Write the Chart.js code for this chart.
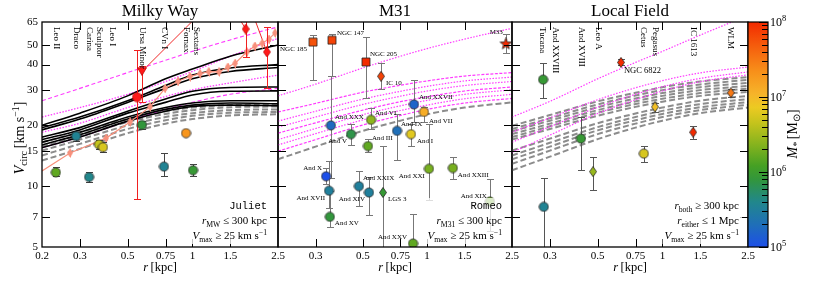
<!DOCTYPE html>
<html>
<head>
<meta charset="utf-8">
<script src="https://cdn.jsdelivr.net/npm/chart.js@4.4.1/dist/chart.umd.min.js"></script>
<style>
  html, body { margin: 0; padding: 0; background: #fff; }
  #wrap { position: relative; width: 830px; height: 283px; }
  #wrap canvas { position: absolute; left: 0; top: 0; }
</style>
</head>
<body>
<div id="wrap">
  <canvas id="mw" width="830" height="283"></canvas>
  <canvas id="m31" width="830" height="283"></canvas>
  <canvas id="lf" width="830" height="283"></canvas>
  <canvas id="cbar" width="830" height="283"></canvas>
</div>
<script>
// --- axes ---
const R_GRID = [0.2, 0.3, 0.5, 0.75, 1, 1.5, 2.5];
const X_TICKS = [0.2, 0.3, 0.5, 0.75, 1, 1.5, 2.5];
const Y_TICKS = [5, 7, 10, 15, 20, 30, 40, 50, 65];

// --- Milky Way host curves (V at R_GRID) ---
const MW_BLACK = [
  [20.0, 23.0, 28.0, 34.0, 38.0, 44.0, 50.0],
  [19.5, 22.0, 26.5, 31.5, 35.5, 38.5, 40.0],
  [19.0, 21.5, 26.0, 30.5, 34.0, 37.0, 38.7],
  [17.5, 19.5, 23.5, 27.0, 29.5, 30.8, 31.0],
  [17.0, 19.0, 23.0, 26.0, 28.3, 29.5, 29.6],
  [16.5, 18.5, 22.0, 24.5, 25.8, 26.5, 26.5],
  [16.0, 18.0, 21.5, 24.0, 25.2, 25.8, 25.6],
  [15.5, 17.5, 21.0, 23.5, 24.8, 25.2, 25.0]
];
const MW_GRAY = [
  [16.5, 18.5, 21.5, 23.5, 24.5, 25.2, 25.3],
  [15.7, 17.7, 20.8, 22.8, 23.8, 24.6, 24.8],
  [15.0, 17.0, 20.0, 22.0, 23.0, 23.8, 24.0],
  [14.2, 16.2, 19.2, 21.2, 22.3, 23.1, 23.3],
  [13.4, 15.3, 18.3, 20.4, 21.5, 22.4, 22.7]
];
const MW_PINK_DASH = [
  [26.5, 30.5, 36.5, 42.0, 46.5, 53.0, 61.5],
  [15.5, 17.5, 21.0, 24.0, 26.0, 28.5, 30.5]
];
const MW_PINK_DOT = [
  [22.0, 24.5, 28.5, 33.0, 37.0, 44.0, 54.0],
  [18.5, 20.5, 24.5, 27.8, 30.0, 32.5, 35.5]
];

// --- Milky Way satellites ---
const MW_NAMES = ['Leo II', 'Draco', 'Carina', 'Sculptor', 'Leo I', 'Ursa Minor', 'CVn I', 'Fornax', 'Sextans'];
const MW_R = [0.232, 0.288, 0.331, 0.368, 0.384, 0.583, 0.738, 0.934, 1.007];
const MW_V = [11.7, 17.7, 11.1, 16.1, 15.6, 20.1, 12.5, 18.3, 12.0];
const MW_LO = [11.2, 16.8, 10.5, 15.3, 14.8, 19.2, 11.2, 18.3, 11.2];
const MW_HI = [12.4, 18.6, 11.8, 17.0, 16.5, 21.0, 14.6, 18.3, 12.9];
const MW_LOGM = [6.2, 5.55, 5.6, 6.65, 6.75, 5.9, 5.55, 7.3, 5.95];

// massive MW objects (red) and their tracks
const MW_BIG_R = [0.553, 0.583, 1.77, 2.22];
const MW_BIG_V = [27.6, 37.0, 60.0, 46.2];
const MW_BIG_LO = [8.6, 26.0, 43.6, 30.8];
const MW_BIG_HI = [47.0, 39.5, 66.0, 61.4];
const MW_BIG_KIND = ['circle', 'tri', 'diamond', 'diamond'];
const MW_TRACK_R = [[0.583, 1.02], [1.66, 1.77], [1.95, 2.22]];
const MW_TRACK_V = [[37.0, 67.0], [67.0, 60.0], [67.0, 46.2]];

// measured profile (salmon)
const MW_PROF_R = [0.2, 0.270, 0.397, 0.513, 0.635, 0.746, 0.857, 0.975, 1.085, 1.19, 1.33, 1.46, 1.58, 1.79, 1.95, 2.11, 2.27, 2.42];
const MW_PROF_V = [11.9, 14.6, 17.3, 20.8, 24.7, 30.5, 33.1, 34.9, 36.1, 36.9, 36.8, 38.9, 40.6, 46.2, 49.4, 51.0, 53.5, 57.4];
const MW_PROF_E = [0, 0.6, 0.8, 1.0, 1.2, 1.4, 1.5, 1.6, 1.6, 1.7, 1.8, 1.9, 2.0, 2.2, 2.4, 2.5, 2.6, 2.8];

// --- M31 host curves ---
const M31_PINK = [
  [28.0, 32.0, 38.5, 44.0, 48.0, 53.5, 60.5],
  [23.3, 25.7, 29.2, 31.6, 33.2, 35.1, 36.5],
  [21.0, 23.5, 27.0, 29.5, 31.2, 33.2, 34.7],
  [19.6, 22.0, 25.4, 27.9, 29.6, 31.5, 33.0],
  [18.3, 20.6, 23.8, 26.2, 27.7, 29.6, 31.0],
  [17.0, 19.3, 22.6, 25.0, 26.6, 28.5, 30.0],
  [16.0, 18.2, 21.3, 23.7, 25.2, 27.1, 28.5],
  [14.9, 17.0, 20.1, 22.4, 24.0, 25.8, 27.2]
];
const M31_GRAY = [
  [13.6, 15.7, 18.8, 21.1, 22.7, 24.5, 26.0]
];

// --- M31 satellites ---
const M31_NAMES = ['NGC 185', 'NGC 147', 'NGC 205', 'IC 10', 'M33', 'And XXX', 'And V', 'And VI', 'And III', 'And IX', 'And XXVII', 'And VII', 'And I', 'And XXI', 'And XXIII', 'And XIX', 'And XXIX', 'And XIV', 'LGS 3', 'And X', 'And XVII', 'And XV', 'And XXV'];
const M31_R = [0.292, 0.358, 0.517, 0.608, 2.34, 0.354, 0.44, 0.546, 0.528, 0.723, 0.868, 0.967, 0.84, 1.02, 1.32, 1.97, 0.479, 0.534, 0.621, 0.336, 0.347, 0.35, 0.859];
const M31_V = [51.7, 52.8, 41.2, 35.0, 50.6, 20.0, 18.1, 21.3, 15.8, 18.8, 25.4, 23.3, 18.1, 12.2, 12.3, 8.4, 10.0, 9.3, 9.3, 11.2, 9.5, 7.05, 5.2];
const M31_LO = [33.7, 35.3, 27.3, 30.2, 45.6, 11.0, 16.0, 19.3, 14.8, 13.5, 20.8, 20.8, 15.9, 8.5, 10.8, 6.0, 8.0, 7.2, 4.8, 10.2, 7.8, 6.3, 4.5];
const M31_HI = [56.0, 57.0, 54.5, 40.6, 56.5, 35.0, 20.3, 24.4, 17.2, 22.8, 33.7, 24.7, 20.3, 20.3, 14.0, 10.9, 11.9, 11.1, 15.9, 12.3, 13.3, 9.5, 7.3];
const M31_LOGM = [7.75, 7.85, 8.0, 7.85, 8.6, 5.25, 5.85, 6.4, 6.2, 5.3, 5.2, 7.1, 6.8, 6.3, 6.3, 6.25, 5.5, 5.5, 5.95, 5.0, 5.5, 5.9, 6.2];
const M31_KIND = ['dE', 'dE', 'dE', 'dIrr', 'spiral', 'dSph', 'dSph', 'dSph', 'dSph', 'dSph', 'dSph', 'dSph', 'dSph', 'dSph', 'dSph', 'dSph', 'dSph', 'dSph', 'dIrr', 'dSph', 'dSph', 'dSph', 'dSph'];

// --- Local Field host curves ---
const LF_GRAY = [
  [19.9, 22.5, 26.3, 29.0, 30.9, 33.0, 34.7],
  [19.2, 21.7, 25.4, 28.1, 29.9, 31.9, 33.6],
  [18.7, 21.1, 24.6, 27.2, 28.9, 30.9, 32.5],
  [18.1, 20.4, 23.8, 26.3, 28.0, 29.9, 31.4],
  [17.5, 19.8, 23.1, 25.5, 27.1, 28.9, 30.4],
  [17.0, 19.2, 22.3, 24.7, 26.2, 28.0, 29.3],
  [15.0, 17.2, 20.5, 22.9, 24.5, 26.5, 28.0],
  [14.2, 16.4, 19.6, 22.0, 23.6, 25.5, 27.0],
  [13.6, 15.7, 18.9, 21.2, 22.8, 24.6, 26.1],
  [12.9, 15.0, 18.1, 20.4, 22.0, 23.8, 25.3],
  [12.0, 14.0, 17.1, 19.5, 21.1, 23.0, 24.5]
];
const LF_PINK = [
  [22.0, 26.3, 34.0, 41.0, 46.5, 56.0, 70.0],
  [18.5, 21.8, 26.8, 30.7, 33.3, 36.4, 38.9],
  [16.5, 19.7, 24.6, 28.5, 31.1, 34.2, 36.8],
  [14.7, 17.9, 22.9, 26.8, 29.6, 32.9, 35.6]
];

// --- Local Field dwarfs ---
const LF_NAMES = ['Tucana', 'And XXVIII', 'And XVIII', 'Leo A', 'NGC 6822', 'Cetus', 'Pegasus', 'IC 1613', 'WLM'];
const LF_R = [0.279, 0.281, 0.418, 0.476, 0.642, 0.82, 0.924, 1.39, 2.08];
const LF_V = [33.7, 7.9, 17.2, 11.8, 41.0, 14.5, 24.7, 18.5, 29.0];
const LF_LO = [27.3, 4.5, 12.0, 9.6, 39.8, 13.2, 23.4, 17.2, 27.5];
const LF_HI = [40.6, 11.0, 22.0, 14.0, 42.4, 15.9, 25.9, 19.8, 30.2];
const LF_LOGM = [5.95, 5.55, 5.95, 6.45, 8.0, 6.75, 6.95, 8.0, 7.5];
const LF_KIND = ['dSph', 'dSph', 'dSph', 'dIrr', 'dIrr', 'dSph', 'dIrr', 'dIrr', 'dIrr'];

// colour bar range (log10 M*)
const CBAR_MIN = 5, CBAR_MAX = 8;

// ---------------------------------------------------------------
const SERIF = '"Liberation Serif", "Times New Roman", serif';
Chart.defaults.font.family = SERIF;
Chart.defaults.color = '#000';

const CMAP = [
  [0.00, [29, 79, 232]], [0.10, [31, 111, 184]], [0.20, [33, 135, 140]],
  [0.30, [50, 150, 60]], [0.36, [69, 160, 36]], [0.45, [130, 178, 30]],
  [0.55, [196, 195, 28]], [0.62, [236, 202, 34]], [0.68, [246, 180, 42]],
  [0.78, [247, 144, 26]], [0.90, [245, 90, 12]], [1.00, [242, 42, 0]]
];
function cmap(logM) {
  const t = Math.min(1, Math.max(0, (logM - CBAR_MIN) / (CBAR_MAX - CBAR_MIN)));
  for (let i = 1; i < CMAP.length; i++) {
    if (t <= CMAP[i][0]) {
      const [t0, c0] = CMAP[i - 1], [t1, c1] = CMAP[i];
      const f = (t - t0) / (t1 - t0);
      return 'rgb(' + c0.map((c, k) => Math.round(c + (c1[k] - c) * f)).join(',') + ')';
    }
  }
  return 'rgb(242,42,0)';
}

const KIND_SHAPE = { dSph: 'circle', dE: 'square', dIrr: 'diamond', spiral: 'star', circle: 'circle', tri: 'tri', diamond: 'diamond' };

function markerImg(kind, fill, stroke) {
  const size = { circle: [11, 11], square: [10, 10], diamond: [8, 11], star: [13, 13], tri: [10, 9], small: [6, 9] }[kind];
  const c = document.createElement('canvas');
  const w = size[0], h = size[1], cx = w / 2, cy = h / 2;
  c.width = w; c.height = h;
  const g = c.getContext('2d');
  g.fillStyle = fill;
  g.strokeStyle = stroke || '#222';
  g.lineWidth = 0.8;
  g.beginPath();
  if (kind === 'circle') g.arc(cx, cy, 4.6, 0, Math.PI * 2);
  else if (kind === 'square') g.rect(1, 1, w - 2, h - 2);
  else if (kind === 'diamond' || kind === 'small') {
    g.moveTo(cx, 0.5); g.lineTo(w - 0.5, cy); g.lineTo(cx, h - 0.5); g.lineTo(0.5, cy); g.closePath();
  } else if (kind === 'tri') {
    g.moveTo(0.5, 0.8); g.lineTo(w - 0.5, 0.8); g.lineTo(cx, h - 0.5); g.closePath();
  } else if (kind === 'star') {
    for (let k = 0; k < 10; k++) {
      const rr = k % 2 ? 2.5 : 6;
      const an = -Math.PI / 2 + k * Math.PI / 5;
      g.lineTo(cx + rr * Math.cos(an), cy + rr * Math.sin(an));
    }
    g.closePath();
  }
  g.fill();
  g.stroke();
  return c;
}

function pts(rs, vs) { return rs.map((r, i) => ({ x: r, y: vs[i] })); }

function curve(vals, color, dash, width, order) {
  return {
    data: pts(R_GRID, vals), showLine: true, pointRadius: 0, borderColor: color,
    borderDash: dash, borderWidth: width, cubicInterpolationMode: 'monotone', fill: false, order: order
  };
}

function markers(rs, vs, lo, hi, imgs, errColor, order) {
  return {
    data: pts(rs, vs), showLine: false, pointRadius: 5, pointStyle: imgs,
    errLo: lo, errHi: hi, errColor: errColor, capW: 3.5, order: order || 1
  };
}

// draw mixed text: parts = [[text, flags]], flags: i italic, b sub, p sup, m mono
function rich(ctx, parts, x, y, size, align, measureOnly) {
  const fonts = parts.map(([t, f]) => {
    const small = f.includes('b') || f.includes('p');
    const fam = f.includes('m') ? '"Liberation Mono", monospace' : SERIF;
    return (f.includes('i') ? 'italic ' : '') + (small ? size * 0.7 : size) + 'px ' + fam;
  });
  let total = 0;
  const widths = parts.map(([t], i) => { ctx.font = fonts[i]; const w = ctx.measureText(t).width; total += w; return w; });
  if (measureOnly) return total;
  let cx = align === 'right' ? x - total : align === 'center' ? x - total / 2 : x;
  ctx.textAlign = 'left';
  ctx.textBaseline = 'alphabetic';
  parts.forEach(([t, f], i) => {
    ctx.font = fonts[i];
    const dy = f.includes('b') ? size * 0.24 : f.includes('p') ? -size * 0.38 : 0;
    ctx.fillText(t, cx, y + dy);
    cx += widths[i];
  });
  return total;
}

// error bars go under each marker set
const errorBars = {
  id: 'errorBars',
  beforeDatasetDraw(chart, args) {
    const ds = chart.data.datasets[args.index];
    if (!ds.errLo) return;
    const { ctx, chartArea: a, scales: { x, y } } = chart;
    ctx.save();
    ctx.beginPath();
    ctx.rect(a.left, a.top, a.width, a.height);
    ctx.clip();
    ctx.strokeStyle = ds.errColor;
    ctx.lineWidth = 1;
    ds.data.forEach((p, i) => {
      if (ds.errLo[i] === ds.errHi[i]) return;
      const px = Math.round(x.getPixelForValue(p.x)) + 0.5;
      const y1 = Math.round(y.getPixelForValue(ds.errLo[i])) + 0.5;
      const y2 = Math.round(y.getPixelForValue(ds.errHi[i])) + 0.5;
      ctx.beginPath();
      ctx.moveTo(px, y1); ctx.lineTo(px, y2);
      ctx.moveTo(px - ds.capW, y1); ctx.lineTo(px + ds.capW, y1);
      ctx.moveTo(px - ds.capW, y2); ctx.lineTo(px + ds.capW, y2);
      ctx.stroke();
    });
    ctx.restore();
  }
};

// box + inward ticks on all four sides
const frame = {
  id: 'frame',
  afterDraw(chart) {
    const { ctx, chartArea: a, scales: { x, y } } = chart;
    ctx.save();
    ctx.strokeStyle = '#000';
    ctx.lineWidth = 1;
    ctx.beginPath();
    X_TICKS.slice(1, -1).forEach(v => {
      const px = Math.round(x.getPixelForValue(v)) + 0.5;
      ctx.moveTo(px, a.bottom); ctx.lineTo(px, a.bottom - 8);
      ctx.moveTo(px, a.top); ctx.lineTo(px, a.top + 8);
    });
    Y_TICKS.slice(1, -1).forEach(v => {
      const py = Math.round(y.getPixelForValue(v)) + 0.5;
      ctx.moveTo(a.left, py); ctx.lineTo(a.left + 8, py);
      ctx.moveTo(a.right, py); ctx.lineTo(a.right - 8, py);
    });
    ctx.stroke();
    ctx.lineWidth = 1.3;
    ctx.strokeRect(a.left, a.top, a.width, a.height);
    ctx.restore();
  }
};

const LABEL_OFFSETS = {
  'NGC 185': [-6, 7, 'right'], 'NGC 147': [5, -7, 'left'], 'NGC 205': [4, -8, 'left'],
  'IC 10': [5, 7, 'left'], 'M33': [-3, -12, 'right'], 'And XXX': [4, -8, 'left'],
  'And VI': [4, -7, 'left'], 'And V': [-4, 7, 'right'], 'And III': [4, -8, 'left'],
  'And XXVII': [5, -7, 'left'], 'And IX': [4, -7, 'left'], 'And VII': [5, 9, 'left'],
  'And I': [6, 7, 'left'], 'And X': [-4, -8, 'right'], 'And XVII': [-4, 7, 'right'],
  'And XV': [5, 6, 'left'], 'And XXIX': [4, -8, 'left'], 'And XIV': [-4, 7, 'right'],
  'LGS 3': [5, 7, 'left'], 'And XXV': [-6, -6, 'right'], 'And XXI': [-4, 7, 'right'],
  'And XXIII': [5, 7, 'left'], 'And XIX': [-3, -5, 'right'], 'NGC 6822': [3, 8, 'left']
};
const V_NUDGE = { 'Leo I': 9, 'Sextans': 3, 'And XXVIII': 12, 'Tucana': -1, 'Leo A': 5 };

const VMAX_LINE = [['V', 'i'], ['max', 'b'], [' \u2265 25 km s', ''], ['\u22121', 'p']];
const DECOR = {
  mw: {
    title: 'Milky Way', ylabel: true,
    vlabels: MW_NAMES.map((t, i) => ({ t, r: MW_R[i] })),
    hlabels: [],
    notes: [[[['Juliet', 'm']], 10.5], [[['r', 'i'], ['MW', 'b'], [' \u2264 300 kpc', '']], 11], [VMAX_LINE, 11]],
    noteX: 267
  },
  m31: {
    title: 'M31',
    vlabels: [],
    hlabels: M31_NAMES.map((t, i) => ({ t, r: M31_R[i], v: M31_V[i], s: 7 })),
    notes: [[[['Romeo', 'm']], 10.5], [[['r', 'i'], ['M31', 'b'], [' \u2264 300 kpc', '']], 11], [VMAX_LINE, 11]],
    noteX: 502
  },
  lf: {
    title: 'Local Field',
    vlabels: LF_NAMES.filter(t => t !== 'NGC 6822').map(t => ({ t, r: LF_R[LF_NAMES.indexOf(t)] })),
    hlabels: [{ t: 'NGC 6822', r: LF_R[4], v: LF_V[4], s: 8.5 }],
    notes: [[[['r', 'i'], ['both', 'b'], [' \u2265 300 kpc', '']], 11], [[['r', 'i'], ['either', 'b'], [' \u2264 1 Mpc', '']], 11], [VMAX_LINE, 11]],
    noteX: 739
  }
};

const decor = {
  id: 'decor',
  afterDraw(chart) {
    const o = DECOR[chart.canvas.id];
    const { ctx, chartArea: a, scales: { x, y } } = chart;
    const mid = (a.left + a.right) / 2;
    ctx.save();
    ctx.fillStyle = '#000';
    ctx.font = '17px ' + SERIF;
    ctx.textAlign = 'center';
    ctx.textBaseline = 'alphabetic';
    ctx.fillText(o.title, mid, 16);
    rich(ctx, [['r', 'i'], ['\u2009[kpc]', '']], mid, 271, 12.5, 'center');
    if (o.ylabel) {
      ctx.save();
      ctx.translate(24, 138);
      ctx.rotate(-Math.PI / 2);
      rich(ctx, [['V', 'i'], ['circ', 'b'], ['\u2009[km s', ''], ['\u22121', 'p'], [']', '']], 0, 0, 14, 'center');
      ctx.restore();
    }
    o.vlabels.forEach(l => {
      ctx.save();
      ctx.translate(x.getPixelForValue(l.r) + (V_NUDGE[l.t] || 0), a.top + 5);
      ctx.rotate(Math.PI / 2);
      ctx.font = '9px ' + SERIF;
      ctx.textAlign = 'left';
      ctx.textBaseline = 'middle';
      ctx.fillText(l.t, 0, 0);
      ctx.restore();
    });
    o.hlabels.forEach(l => {
      const [dx, dy, al] = LABEL_OFFSETS[l.t];
      ctx.font = l.s + 'px ' + SERIF;
      ctx.textAlign = al;
      ctx.textBaseline = 'middle';
      ctx.fillText(l.t, x.getPixelForValue(l.r) + dx, y.getPixelForValue(l.v) + dy);
    });
    // annotation block, bottom right, on a faint white box
    const base = [209, 224, 239];
    const wmax = Math.max(...o.notes.map(([p, s]) => rich(ctx, p, 0, 0, s, 'right', true)));
    ctx.fillStyle = 'rgba(255,255,255,0.75)';
    ctx.fillRect(o.noteX - wmax - 2, 198, wmax + 5, 46);
    ctx.fillStyle = '#000';
    o.notes.forEach(([p, s], i) => rich(ctx, p, o.noteX, base[i], s, 'right'));
    ctx.restore();
  }
};

// left: plot-area left edge, right: plot-area right edge (canvas px)
function makePanel(id, left, right, datasets, showY, xLabels) {
  const yWidth = showY ? left : 0;
  return new Chart(document.getElementById(id), {
    type: 'scatter',
    data: { datasets },
    options: {
      responsive: false, animation: false, events: [],
      layout: { padding: { left: left - yWidth, right: 830 - right, top: 22, bottom: 0 } },
      plugins: { legend: { display: false }, tooltip: { enabled: false } },
      scales: {
        x: {
          type: 'logarithmic', min: 0.2, max: 2.5,
          afterBuildTicks: s => { s.ticks = X_TICKS.map(v => ({ value: v })); },
          afterFit: s => { s.height = 36; },
          grid: { display: false, drawTicks: false }, border: { display: false },
          ticks: {
            autoSkip: false, maxRotation: 0, padding: 3, font: { size: 11 }, color: '#000',
            callback: v => xLabels.includes(v) ? String(v) : ''
          }
        },
        y: {
          type: 'logarithmic', min: 5, max: 65,
          afterBuildTicks: s => { s.ticks = Y_TICKS.map(v => ({ value: v })); },
          afterFit: s => { s.width = yWidth; },
          grid: { display: false, drawTicks: false }, border: { display: false },
          ticks: { display: showY, autoSkip: false, padding: 4, font: { size: 11 }, color: '#000', callback: v => String(v) }
        }
      }
    },
    plugins: [errorBars, frame, decor]
  });
}

const PINK = '#ff3cff';
const GRAY = '#8c8c8c';

// Milky Way
const mwSets = [
  markers(MW_R, MW_V, MW_LO, MW_HI, MW_LOGM.map(m => markerImg('circle', cmap(m))), '#444', 1),
  markers(MW_BIG_R, MW_BIG_V, MW_BIG_LO, MW_BIG_HI, MW_BIG_KIND.map(k => markerImg(k, '#ff1a1a', '#c00000')), '#f02020', 2),
  Object.assign(markers(MW_PROF_R, MW_PROF_V, MW_PROF_V.map((v, i) => v - MW_PROF_E[i]), MW_PROF_V.map((v, i) => v + MW_PROF_E[i]),
    MW_PROF_R.map(() => markerImg('small', '#f7907c', '#f7907c')), '#f7907c', 3), { pointRadius: MW_PROF_R.map((r, i) => i === 0 ? 0 : 4), capW: 0 }),
  Object.assign(curve([], '#f7907c', [], 1.2, 6), { data: pts(MW_PROF_R, MW_PROF_V), cubicInterpolationMode: 'default', tension: 0 }),
  ...MW_TRACK_R.map((rs, i) => Object.assign(curve([], '#f02828', [], 1, 5), { data: pts(rs, MW_TRACK_V[i]) })),
  ...MW_BLACK.map(v => curve(v, '#000', [], 1.6, 11)),
  ...MW_PINK_DASH.map(v => curve(v, PINK, [4, 2.5], 1.1, 12)),
  ...MW_PINK_DOT.map(v => curve(v, PINK, [1.5, 1.5], 1.3, 12)),
  ...MW_GRAY.map(v => curve(v, GRAY, [6, 3], 2, 14))
];
makePanel('mw', 42, 278, mwSets, true, X_TICKS);

// M31
const m31Sets = [
  markers(M31_R, M31_V, M31_LO, M31_HI, M31_KIND.map((k, i) => markerImg(KIND_SHAPE[k], cmap(M31_LOGM[i]))), '#777', 1),
  ...M31_PINK.map((v, i) => curve(v, PINK, i % 3 === 1 ? [3, 1.5] : [1.5, 1.5], 1.2, 12)),
  ...M31_GRAY.map(v => curve(v, GRAY, [6, 3], 2, 14))
];
makePanel('m31', 278, 512, m31Sets, false, X_TICKS.slice(1));

// Local Field
const lfSets = [
  markers(LF_R, LF_V, LF_LO, LF_HI, LF_KIND.map((k, i) => markerImg(KIND_SHAPE[k], cmap(LF_LOGM[i]))), '#555', 1),
  ...LF_PINK.map(v => curve(v, PINK, [1.5, 1.5], 1.2, 12)),
  ...LF_GRAY.map(v => curve(v, GRAY, [6, 3], 2, 14))
];
makePanel('lf', 512, 748, lfSets, false, X_TICKS.slice(1));

// colour bar
const colorbar = {
  id: 'colorbar',
  afterDraw(chart) {
    const { ctx, chartArea: a, scales: { y } } = chart;
    ctx.save();
    const grad = ctx.createLinearGradient(0, a.bottom, 0, a.top);
    CMAP.forEach(([t, c]) => grad.addColorStop(t, 'rgb(' + c.join(',') + ')'));
    ctx.fillStyle = grad;
    ctx.fillRect(a.left, a.top, a.width, a.height);
    ctx.strokeStyle = '#000';
    ctx.lineWidth = 1;
    ctx.beginPath();
    for (let k = CBAR_MIN; k <= CBAR_MAX; k++) {
      const py = Math.round(y.getPixelForValue(Math.pow(10, k))) + 0.5;
      ctx.moveTo(a.right, py); ctx.lineTo(a.right - 9, py);
      if (k < CBAR_MAX) {
        for (let m = 2; m <= 9; m++) {
          const pm = Math.round(y.getPixelForValue(m * Math.pow(10, k))) + 0.5;
          ctx.moveTo(a.right, pm); ctx.lineTo(a.right - 6, pm);
        }
      }
    }
    ctx.stroke();
    ctx.lineWidth = 1.2;
    ctx.strokeRect(a.left, a.top, a.width, a.height);
    ctx.fillStyle = '#000';
    for (let k = CBAR_MIN; k <= CBAR_MAX; k++) {
      const py = y.getPixelForValue(Math.pow(10, k));
      rich(ctx, [['10', ''], [String(k), 'p']], a.right + 2, py + 4, 12, 'left');
    }
    ctx.translate(797, 134);
    ctx.rotate(-Math.PI / 2);
    rich(ctx, [['M', 'i'], ['*', 'bi'], ['\u2009[M', ''], ['\u2299', 'b'], [']', '']], 0, 0, 14, 'center');
    ctx.restore();
  }
};
new Chart(document.getElementById('cbar'), {
  type: 'scatter',
  data: { datasets: [] },
  options: {
    responsive: false, animation: false, events: [],
    layout: { padding: { left: 748, right: 62, top: 22, bottom: 36 } },
    plugins: { legend: { display: false }, tooltip: { enabled: false } },
    scales: {
      x: { display: false, min: 0, max: 1 },
      y: { display: false, type: 'logarithmic', min: Math.pow(10, CBAR_MIN), max: Math.pow(10, CBAR_MAX) }
    }
  },
  plugins: [colorbar]
});
</script>
</body>
</html>
